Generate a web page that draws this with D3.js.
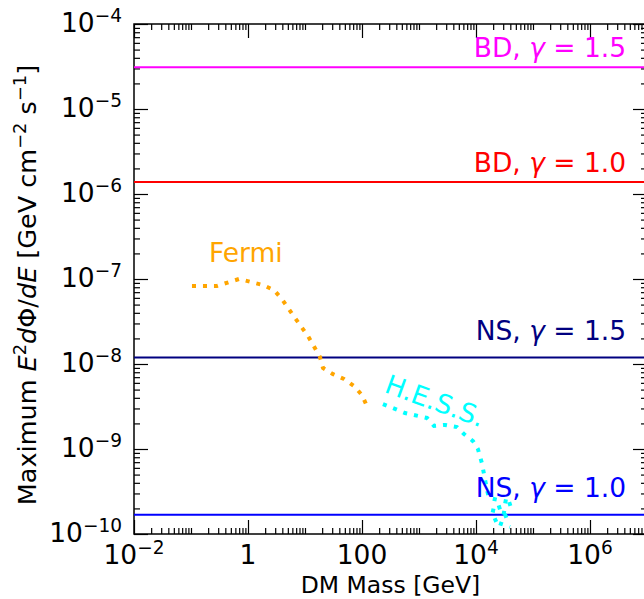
<!DOCTYPE html>
<html>
<head>
<meta charset="utf-8">
<script src="https://cdn.jsdelivr.net/npm/d3@7"></script>
<style>
  html, body { margin: 0; padding: 0; background: #fff; }
  svg { display: block; font-family: "DejaVu Sans", sans-serif; }
</style>
</head>
<body>
<svg id="chart" width="644" height="599"></svg>
<script>
// ---------------- data ----------------
const limitNames  = ["BD", "BD", "NS", "NS"];
const limitGamma  = ["1.5", "1.0", "1.5", "1.0"];
const limitValues = [3.1e-5, 1.38e-6, 1.19e-8, 1.68e-10];
const limitLabelY = [4.09e-5, 1.82e-6, 1.91e-8, 2.72e-10];

const fermiMass = [0.104, 0.286, 0.695, 1.83, 2.86, 3.94, 6.68, 11.3, 18.3, 20.7, 31, 48.3, 72.4, 100, 122];
const fermiFlux = [8.3e-8, 8.3e-8, 1.0e-7, 8.5e-8, 7.4e-8, 5.8e-8, 3.48e-8, 2.13e-8, 1.21e-8, 8.97e-9, 7.6e-9, 6.67e-9, 5.5e-9, 4.3e-9, 3.2e-9];

const hessMass = [233, 568, 1380, 1830, 2860, 4640, 6150, 8850, 10800, 12700, 13800, 15600, 16900, 44600, 18300, 39500, 19900, 39500];
const hessFlux = [3.38e-9, 2.65e-9, 2.32e-9, 1.87e-9, 1.92e-9, 1.81e-9, 1.5e-9, 1.24e-9, 1.0e-9, 6.8e-10, 5.1e-10, 3.3e-10, 2.65e-10, 2.32e-10, 1.91e-10, 1.72e-10, 1.42e-10, 1.21e-10];

const xDomain = [1e-2, 1e7];
const yDomain = [1e-10, 1e-4];
const xTickValues = [1e-2, 1, 1e2, 1e4, 1e6];
const xTickBase = ["10", "1", "100", "10", "10"];
const xTickExp  = ["−2", "", "", "4", "6"];
const yTickValues = [1e-4, 1e-5, 1e-6, 1e-7, 1e-8, 1e-9, 1e-10];
const yTickExp = ["−4", "−5", "−6", "−7", "−8", "−9", "−10"];

const xLabel = "DM Mass [GeV]";

// ---------------- layout ----------------
const L = 134, R = 647, T = 24, B = 534;
const majorLen = 14, minorLen = 6;
const tickFont = 26.5, labelFont = 26.5;

const svg = d3.select("#chart");
const x = d3.scaleLog().domain(xDomain).range([L, R]);
const y = d3.scaleLog().domain(yDomain).range([B, T]);

// minor tick values
const xMinor = [];
for (let n = -2; n <= 6; n++) for (let k = 1; k <= 9; k++) {
  const v = k * Math.pow(10, n);
  if (k === 1 && n % 2 === 0) continue;
  xMinor.push(v);
}
xMinor.push(1e7);
const yMinor = [];
for (let n = -10; n <= -5; n++) for (let k = 2; k <= 9; k++) yMinor.push(k * Math.pow(10, n));

function axisG(axisFn, scale, values, len, tx, ty) {
  svg.append("g").attr("transform", `translate(${tx},${ty})`)
    .call(axisFn(scale).tickValues(values).tickSize(-len).tickFormat(() => ""))
    .call(g => g.select(".domain").remove())
    .call(g => g.selectAll(".tick line").attr("stroke", "#000").attr("stroke-width", 1.2));
}
// inward ticks on all four sides
axisG(d3.axisBottom, x, xTickValues, majorLen, 0, B);
axisG(d3.axisBottom, x, xMinor, minorLen, 0, B);
axisG(d3.axisTop, x, xTickValues, majorLen, 0, T);
axisG(d3.axisTop, x, xMinor, minorLen, 0, T);
axisG(d3.axisLeft, y, yTickValues, majorLen, L, 0);
axisG(d3.axisLeft, y, yMinor, minorLen, L, 0);
axisG(d3.axisRight, y, yTickValues, majorLen, R, 0);
axisG(d3.axisRight, y, yMinor, minorLen, R, 0);

// frame
svg.append("rect").attr("x", L).attr("y", T).attr("width", R - L).attr("height", B - T)
  .attr("fill", "none").attr("stroke", "#000").attr("stroke-width", 1.5);

// tick labels
const sup = tickFont * 0.7;
xTickValues.forEach((v, i) => {
  const t = svg.append("text").attr("x", x(v)).attr("y", B + 30)
    .attr("text-anchor", "middle").attr("font-size", tickFont).attr("fill", "#000");
  t.append("tspan").text(xTickBase[i]);
  if (xTickExp[i]) t.append("tspan").attr("dy", -10).attr("font-size", sup).text(xTickExp[i]);
});
yTickValues.forEach((v, i) => {
  const t = svg.append("text").attr("x", L - 12).attr("y", y(v) + 8)
    .attr("text-anchor", "end").attr("font-size", tickFont).attr("fill", "#000");
  t.append("tspan").text("10");
  t.append("tspan").attr("dy", -10).attr("font-size", sup).text(yTickExp[i]);
});

// axis labels
svg.append("text").attr("x", (L + R) / 2).attr("y", 593).attr("text-anchor", "middle")
  .attr("font-size", 23.5).text(xLabel);

const ylf = labelFont - 1, ylsup = ylf * 0.7;
const yl = svg.append("text").attr("transform", `translate(36,${(T + B) / 2 + 6}) rotate(-90)`)
  .attr("text-anchor", "middle").attr("font-size", ylf);
yl.append("tspan").text("Maximum ");
yl.append("tspan").attr("font-style", "italic").text("E");
yl.append("tspan").attr("dy", -10).attr("font-size", ylsup).text("2");
yl.append("tspan").attr("dy", 10).attr("font-style", "italic").text("d");
yl.append("tspan").text("Φ/");
yl.append("tspan").attr("font-style", "italic").text("dE");
yl.append("tspan").text(" [GeV cm");
yl.append("tspan").attr("dy", -10).attr("font-size", ylsup).text("−2");
yl.append("tspan").attr("dy", 10).text(" s");
yl.append("tspan").attr("dy", -10).attr("font-size", ylsup).text("−1");
yl.append("tspan").attr("dy", 10).text("]");

// clip
svg.append("clipPath").attr("id", "clip").append("rect")
  .attr("x", L).attr("y", T).attr("width", R - L).attr("height", B - T);
const plot = svg.append("g").attr("clip-path", "url(#clip)");

// horizontal limits
const limitColors = ["#ff00ff", "#ff0000", "#000080", "#0000ff"];
limitValues.forEach((v, i) => {
  plot.append("line").attr("x1", L).attr("x2", R).attr("y1", y(v)).attr("y2", y(v))
    .attr("stroke", limitColors[i]).attr("stroke-width", 2);
  const t = svg.append("text").attr("x", x(4.3e6)).attr("y", y(limitLabelY[i]))
    .attr("text-anchor", "end").attr("font-size", labelFont).attr("fill", limitColors[i]);
  t.append("tspan").text(limitNames[i] + ", ");
  t.append("tspan").attr("font-style", "italic").text("γ");
  t.append("tspan").text(" = " + limitGamma[i]);
});

// dotted curves
const line = d3.line().x(d => x(d[0])).y(d => y(d[1]));
plot.append("path").datum(fermiMass.map((m, i) => [m, fermiFlux[i]]))
  .attr("d", line).attr("fill", "none").attr("stroke", "#ffa500")
  .attr("stroke-width", 4).attr("stroke-dasharray", "4 7");
plot.append("path").datum(hessMass.map((m, i) => [m, hessFlux[i]]))
  .attr("d", line).attr("fill", "none").attr("stroke", "#00ffff")
  .attr("stroke-width", 4).attr("stroke-dasharray", "4 7");

// curve labels
svg.append("text").attr("x", x(0.207)).attr("y", y(1.58e-7))
  .attr("font-size", labelFont).attr("fill", "#ffa500").text("Fermi");
svg.append("text").attr("transform", `translate(${x(235)},${y(4.7e-9)}) rotate(20)`)
  .attr("font-size", labelFont).attr("fill", "#00ffff").text("H.E.S.S.");
</script>
</body>
</html>
